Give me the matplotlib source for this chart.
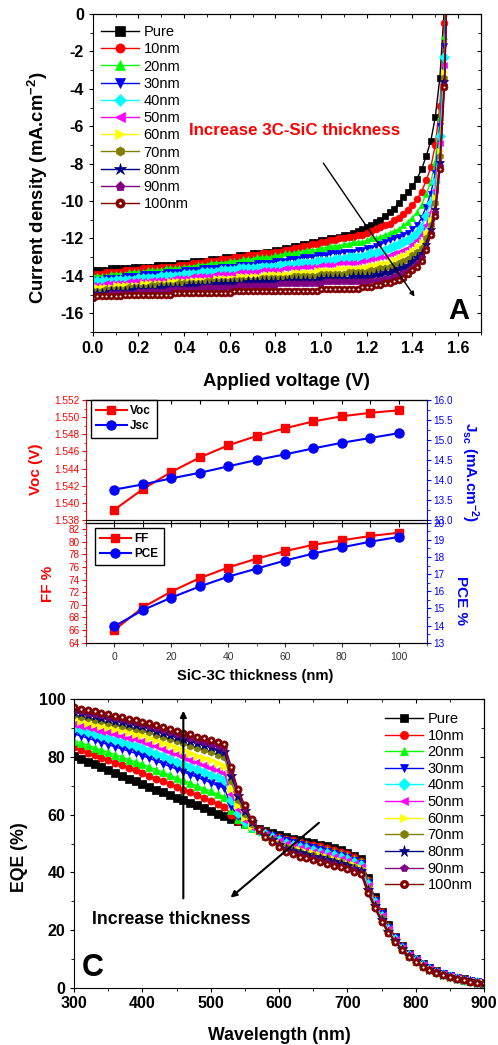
import numpy as np
import matplotlib
matplotlib.use('Agg')
import matplotlib.pyplot as plt
from matplotlib.ticker import MultipleLocator, FormatStrFormatter
from matplotlib.legend_handler import HandlerTuple

plt.rcParams['font.family'] = ['Liberation Sans', 'DejaVu Sans']
plt.rcParams['mathtext.fontset'] = 'custom'
plt.rcParams['mathtext.rm'] = 'Liberation Sans'
plt.rcParams['mathtext.bf'] = 'Liberation Sans:bold'
plt.rcParams['mathtext.it'] = 'Liberation Sans:italic'
plt.rcParams['axes.linewidth'] = 0.8

# ---------------- data ----------------
labels = ['Pure', '10nm', '20nm', '30nm', '40nm', '50nm', '60nm', '70nm', '80nm', '90nm', '100nm']
colors = ['#000000', '#FF0000', '#00FF00', '#0000FF', '#00FFFF', '#FF00FF',
          '#FFFF00', '#808000', '#000080', '#800080', '#800000']
markers = ['s', 'o', '^', 'v', 'D', '<', '>', 'h', '*', 'p', 'o']

voltage = np.round(np.arange(0, 1.561, 0.02), 2)

j_pure = [-13.7,-13.7,-13.7,-13.7,-13.6,-13.6,-13.6,-13.6,-13.6,-13.5,
          -13.5,-13.5,-13.5,-13.5,-13.4,-13.4,-13.4,-13.4,-13.4,-13.3,
          -13.3,-13.3,-13.2,-13.2,-13.2,-13.2,-13.1,-13.1,-13.1,-13.0,
          -13.0,-13.0,-12.9,-12.9,-12.9,-12.8,-12.8,-12.8,-12.7,-12.7,
          -12.6,-12.6,-12.5,-12.5,-12.4,-12.4,-12.3,-12.3,-12.2,-12.2,
          -12.1,-12.1,-12.0,-12.0,-11.9,-11.8,-11.8,-11.7,-11.6,-11.5,
          -11.4,-11.3,-11.1,-11.0,-10.8,-10.6,-10.4,-10.1,-9.8,-9.5,
          -9.2,-8.8,-8.3,-7.6,-6.8,-5.5,-3.4,0.4,6.0]
j_10 = [-13.9,-13.9,-13.9,-13.8,-13.8,-13.8,-13.8,-13.7,-13.7,-13.7,
        -13.7,-13.6,-13.6,-13.6,-13.6,-13.5,-13.5,-13.5,-13.5,-13.4,
        -13.4,-13.4,-13.3,-13.3,-13.3,-13.2,-13.2,-13.2,-13.1,-13.1,
        -13.1,-13.0,-13.0,-13.0,-12.9,-12.9,-12.9,-12.8,-12.8,-12.8,
        -12.7,-12.7,-12.6,-12.6,-12.5,-12.5,-12.4,-12.4,-12.3,-12.3,
        -12.2,-12.2,-12.1,-12.1,-12.0,-12.0,-11.9,-11.9,-11.8,-11.8,
        -11.7,-11.6,-11.5,-11.4,-11.3,-11.2,-11.0,-10.9,-10.7,-10.5,
        -10.2,-9.9,-9.5,-8.9,-8.2,-7.0,-4.9,-0.5,5.5]
j_20 = [-14.0,-14.0,-14.0,-14.0,-13.9,-13.9,-13.9,-13.9,-13.8,-13.8,
        -13.8,-13.8,-13.7,-13.7,-13.7,-13.7,-13.6,-13.6,-13.6,-13.6,
        -13.5,-13.5,-13.5,-13.4,-13.4,-13.4,-13.3,-13.3,-13.3,-13.3,
        -13.2,-13.2,-13.2,-13.1,-13.1,-13.1,-13.0,-13.0,-13.0,-13.0,
        -12.9,-12.9,-12.8,-12.8,-12.8,-12.7,-12.7,-12.6,-12.6,-12.6,
        -12.5,-12.5,-12.4,-12.4,-12.4,-12.3,-12.3,-12.2,-12.2,-12.2,
        -12.1,-12.0,-12.0,-11.9,-11.8,-11.7,-11.6,-11.5,-11.3,-11.1,
        -10.9,-10.6,-10.2,-9.6,-9.0,-7.9,-5.5,-1.2,5.0]
j_30 = [-14.2,-14.2,-14.2,-14.1,-14.1,-14.1,-14.1,-14.0,-14.0,-14.0,
        -14.0,-13.9,-13.9,-13.9,-13.9,-13.9,-13.8,-13.8,-13.8,-13.8,
        -13.7,-13.7,-13.7,-13.7,-13.6,-13.6,-13.6,-13.6,-13.5,-13.5,
        -13.5,-13.5,-13.4,-13.4,-13.4,-13.4,-13.3,-13.3,-13.3,-13.3,
        -13.2,-13.2,-13.2,-13.1,-13.1,-13.1,-13.0,-13.0,-13.0,-12.9,
        -12.9,-12.9,-12.8,-12.8,-12.8,-12.7,-12.7,-12.7,-12.6,-12.6,
        -12.5,-12.5,-12.4,-12.3,-12.2,-12.1,-12.0,-11.9,-11.8,-11.7,
        -11.5,-11.3,-10.9,-10.3,-9.6,-8.5,-6.0,-1.7,5.0]
j_40 = [-14.3,-14.3,-14.3,-14.3,-14.3,-14.2,-14.2,-14.2,-14.2,-14.2,
        -14.1,-14.1,-14.1,-14.1,-14.1,-14.0,-14.0,-14.0,-14.0,-14.0,
        -13.9,-13.9,-13.9,-13.9,-13.8,-13.8,-13.8,-13.8,-13.7,-13.7,
        -13.7,-13.7,-13.6,-13.6,-13.6,-13.6,-13.6,-13.5,-13.5,-13.5,
        -13.5,-13.4,-13.4,-13.4,-13.4,-13.3,-13.3,-13.3,-13.3,-13.2,
        -13.2,-13.2,-13.2,-13.1,-13.1,-13.1,-13.0,-13.0,-13.0,-13.0,
        -12.9,-12.8,-12.8,-12.7,-12.6,-12.5,-12.4,-12.3,-12.2,-12.1,
        -11.9,-11.7,-11.4,-10.8,-10.1,-9.0,-6.5,-2.3,5.0]
j_50 = [-14.5,-14.5,-14.5,-14.4,-14.4,-14.4,-14.4,-14.4,-14.3,-14.3,
        -14.3,-14.3,-14.3,-14.2,-14.2,-14.2,-14.2,-14.2,-14.1,-14.1,
        -14.1,-14.1,-14.0,-14.0,-14.0,-14.0,-14.0,-13.9,-13.9,-13.9,
        -13.9,-13.9,-13.8,-13.8,-13.8,-13.8,-13.8,-13.7,-13.7,-13.7,
        -13.7,-13.7,-13.6,-13.6,-13.6,-13.6,-13.5,-13.5,-13.5,-13.5,
        -13.4,-13.4,-13.4,-13.4,-13.3,-13.3,-13.3,-13.3,-13.3,-13.2,
        -13.2,-13.1,-13.1,-13.0,-13.0,-12.9,-12.8,-12.7,-12.6,-12.5,
        -12.3,-12.1,-11.8,-11.3,-10.6,-9.4,-6.9,-2.7,5.0]
j_60 = [-14.6,-14.6,-14.6,-14.6,-14.6,-14.5,-14.5,-14.5,-14.5,-14.5,
        -14.5,-14.4,-14.4,-14.4,-14.4,-14.4,-14.4,-14.3,-14.3,-14.3,
        -14.3,-14.3,-14.2,-14.2,-14.2,-14.2,-14.2,-14.1,-14.1,-14.1,
        -14.1,-14.1,-14.0,-14.0,-14.0,-14.0,-14.0,-14.0,-13.9,-13.9,
        -13.9,-13.9,-13.9,-13.9,-13.8,-13.8,-13.8,-13.8,-13.8,-13.7,
        -13.7,-13.7,-13.7,-13.7,-13.6,-13.6,-13.6,-13.6,-13.6,-13.5,
        -13.5,-13.4,-13.4,-13.3,-13.3,-13.2,-13.1,-13.0,-12.9,-12.8,
        -12.6,-12.4,-12.2,-11.7,-11.0,-9.8,-7.3,-3.1,5.0]
j_70 = [-14.8,-14.8,-14.8,-14.7,-14.7,-14.7,-14.7,-14.7,-14.6,-14.6,
        -14.6,-14.6,-14.6,-14.5,-14.5,-14.5,-14.5,-14.5,-14.5,-14.4,
        -14.4,-14.4,-14.4,-14.4,-14.4,-14.3,-14.3,-14.3,-14.3,-14.3,
        -14.3,-14.2,-14.2,-14.2,-14.2,-14.2,-14.2,-14.1,-14.1,-14.1,
        -14.1,-14.1,-14.1,-14.1,-14.0,-14.0,-14.0,-14.0,-14.0,-14.0,
        -13.9,-13.9,-13.9,-13.9,-13.9,-13.9,-13.8,-13.8,-13.8,-13.8,
        -13.8,-13.7,-13.7,-13.6,-13.6,-13.5,-13.4,-13.3,-13.2,-13.1,
        -12.9,-12.7,-12.5,-12.0,-11.3,-10.1,-7.6,-3.4,5.0]
j_80 = [-14.9,-14.9,-14.9,-14.9,-14.8,-14.8,-14.8,-14.8,-14.8,-14.7,
        -14.7,-14.7,-14.7,-14.7,-14.7,-14.6,-14.6,-14.6,-14.6,-14.6,
        -14.6,-14.5,-14.5,-14.5,-14.5,-14.5,-14.5,-14.4,-14.4,-14.4,
        -14.4,-14.4,-14.4,-14.4,-14.3,-14.3,-14.3,-14.3,-14.3,-14.3,
        -14.3,-14.3,-14.3,-14.2,-14.2,-14.2,-14.2,-14.2,-14.2,-14.2,
        -14.1,-14.1,-14.1,-14.1,-14.1,-14.1,-14.1,-14.0,-14.0,-14.0,
        -14.0,-14.0,-13.9,-13.9,-13.8,-13.8,-13.7,-13.6,-13.5,-13.4,
        -13.2,-13.0,-12.8,-12.3,-11.5,-10.4,-7.9,-3.6,5.0]
j_90 = [-15.0,-15.0,-15.0,-15.0,-14.9,-14.9,-14.9,-14.9,-14.9,-14.9,
        -14.8,-14.8,-14.8,-14.8,-14.8,-14.8,-14.8,-14.7,-14.7,-14.7,
        -14.7,-14.7,-14.7,-14.7,-14.6,-14.6,-14.6,-14.6,-14.6,-14.6,
        -14.6,-14.6,-14.5,-14.5,-14.5,-14.5,-14.5,-14.5,-14.5,-14.5,
        -14.5,-14.4,-14.4,-14.4,-14.4,-14.4,-14.4,-14.4,-14.4,-14.4,
        -14.4,-14.3,-14.3,-14.3,-14.3,-14.3,-14.3,-14.3,-14.3,-14.3,
        -14.3,-14.2,-14.2,-14.2,-14.1,-14.1,-14.0,-13.9,-13.8,-13.7,
        -13.5,-13.3,-13.0,-12.5,-11.7,-10.6,-8.1,-3.8,5.0]
j_100 = [-15.2,-15.1,-15.1,-15.1,-15.1,-15.1,-15.1,-15.0,-15.0,-15.0,
         -15.0,-15.0,-15.0,-15.0,-15.0,-15.0,-15.0,-15.0,-14.9,-14.9,
         -14.9,-14.9,-14.9,-14.9,-14.9,-14.9,-14.9,-14.9,-14.9,-14.9,
         -14.9,-14.8,-14.8,-14.8,-14.8,-14.8,-14.8,-14.8,-14.8,-14.8,
         -14.8,-14.8,-14.8,-14.8,-14.8,-14.8,-14.8,-14.8,-14.8,-14.8,
         -14.7,-14.7,-14.7,-14.7,-14.7,-14.7,-14.7,-14.7,-14.7,-14.6,
         -14.6,-14.6,-14.5,-14.5,-14.4,-14.4,-14.3,-14.2,-14.1,-13.9,
         -13.7,-13.5,-13.2,-12.6,-11.8,-10.8,-8.3,-3.9,5.0]
jv_curves = [j_pure, j_10, j_20, j_30, j_40, j_50, j_60, j_70, j_80, j_90, j_100]

thickness = [0, 10, 20, 30, 40, 50, 60, 70, 80, 90, 100]
voc = [1.5392, 1.5416, 1.5436, 1.5453, 1.5467, 1.5478, 1.5487, 1.5495, 1.5501, 1.5505, 1.5508]
jsc = [13.76, 13.89, 14.04, 14.18, 14.34, 14.50, 14.64, 14.79, 14.93, 15.05, 15.17]
ff = [66.0, 69.6, 72.1, 74.2, 75.9, 77.3, 78.5, 79.5, 80.2, 80.9, 81.4]
pce = [13.96, 14.90, 15.63, 16.28, 16.85, 17.32, 17.79, 18.20, 18.56, 18.89, 19.17]

wavelength = np.arange(300, 901, 10)
eqe_pure = [80.4,79.4,78.4,77.4,76.4,75.4,74.5,73.5,72.5,71.5,
            70.5,69.6,68.7,67.8,66.8,65.9,65.0,64.1,63.2,62.2,
            61.3,60.4,59.5,58.6,57.7,56.8,56.0,55.1,54.3,53.5,
            52.8,52.2,51.7,51.2,50.6,50.1,49.6,49.0,48.3,47.6,
            46.8,45.8,44.6,37.9,31.3,26.4,21.6,17.7,14.4,11.8,
            10.0,8.3,6.9,5.8,4.9,4.1,3.4,2.9,2.4,2.0,1.7]
eqe_10 = [83.3,82.4,81.5,80.7,79.8,78.9,78.0,77.1,76.3,75.4,74.5,
          73.5,72.5,71.6,70.6,69.6,68.7,67.7,66.7,65.7,64.8,63.8,62.8,
          59.9,57.8,56.6,55.7,54.8,54.0,53.1,52.4,
          51.7,51.2,50.6,50.0,49.5,49.0,48.4,47.7,47.0,46.2,45.2,44.1,
          37.4,30.9,26.1,21.3,17.5,14.3,11.7,9.9,8.2,6.8,5.7,4.9,4.1,3.4,2.9,2.4,2.0,1.7]
eqe_20 = [85.7,84.9,84.1,83.2,82.4,81.6,80.8,80.0,79.1,78.3,77.5,
          76.6,75.6,74.7,73.7,72.8,71.9,70.9,70.0,69.0,68.1,67.1,66.2,
          61.5,58.5,56.7,55.5,54.6,53.7,52.8,52.0,
          51.2,50.6,50.0,49.4,48.9,48.4,47.8,47.1,46.4,45.6,44.7,43.5,
          36.9,30.5,25.7,21.1,17.3,14.1,11.6,9.8,8.1,6.7,5.7,4.8,4.0,3.3,2.8,2.3,2.0,1.7]
eqe_30 = [88.0,87.3,86.5,85.8,85.0,84.3,83.5,82.8,82.0,81.3,80.5,
          79.6,78.6,77.7,76.7,75.8,74.9,73.9,73.0,72.0,71.1,70.1,69.2,
          63.0,59.5,57.0,55.5,54.4,53.4,52.5,51.6,
          50.7,50.1,49.5,48.9,48.3,47.8,47.2,46.5,45.8,45.1,44.1,43.0,
          36.4,30.2,25.4,20.8,17.1,14.0,11.5,9.7,8.0,6.7,5.6,4.8,4.0,3.3,2.8,2.3,1.9,1.7]
eqe_40 = [90.0,89.3,88.6,87.9,87.2,86.5,85.8,85.1,84.4,83.7,83.0,
          82.1,81.2,80.3,79.3,78.4,77.5,76.6,75.7,74.8,73.8,72.9,72.0,
          65.0,60.5,57.5,55.6,54.3,53.2,52.2,51.2,
          50.2,49.5,48.9,48.3,47.7,47.2,46.6,45.9,45.2,44.5,43.6,42.5,
          35.9,29.8,25.0,20.5,16.9,13.9,11.4,9.6,7.9,6.6,5.6,4.7,3.9,3.2,2.8,2.3,1.9,1.7]
eqe_50 = [91.5,90.9,90.3,89.7,89.1,88.5,87.9,87.3,86.7,86.1,85.5,
          84.6,83.7,82.8,81.8,80.9,80.0,79.1,78.2,77.3,76.3,75.4,74.5,
          67.0,62.0,58.3,55.8,54.2,53.0,51.9,50.8,
          49.7,49.0,48.3,47.7,47.2,46.6,46.0,45.3,44.7,43.9,43.0,41.9,
          35.4,29.4,24.7,20.3,16.7,13.8,11.3,9.5,7.8,6.5,5.5,4.7,3.9,3.2,2.8,2.3,1.9,1.7]
eqe_60 = [93.0,92.5,91.9,91.4,90.8,90.3,89.7,89.2,88.6,88.1,87.5,
          86.6,85.8,84.9,84.0,83.1,82.3,81.4,80.5,79.6,78.8,77.9,77.0,
          69.0,63.5,59.2,56.2,54.3,52.9,51.6,50.3,
          49.2,48.5,47.7,47.1,46.6,46.0,45.4,44.7,44.1,43.3,42.4,41.4,
          34.9,29.0,24.3,20.0,16.5,13.6,11.2,9.4,7.7,6.4,5.4,4.6,3.8,3.2,2.7,2.2,1.9,1.6]
eqe_70 = [94.5,94.0,93.5,92.9,92.4,91.9,91.4,90.9,90.3,89.8,89.3,
          88.5,87.7,87.0,86.2,85.4,84.7,83.9,83.1,82.3,81.6,80.8,80.0,
          71.5,65.0,60.2,56.7,54.4,52.8,51.4,49.9,
          48.7,47.9,47.1,46.5,46.0,45.4,44.8,44.1,43.5,42.7,41.9,40.9,
          34.4,28.6,24.0,19.7,16.3,13.5,11.1,9.3,7.6,6.3,5.4,4.6,3.8,3.1,2.7,2.2,1.9,1.6]
eqe_80 = [95.6,95.1,94.6,94.1,93.6,93.1,92.6,92.1,91.6,91.1,90.6,
          89.9,89.1,88.4,87.7,86.9,86.2,85.5,84.7,84.0,83.3,82.5,81.8,
          73.5,66.5,61.3,57.3,54.6,52.7,51.1,49.5,
          48.2,47.4,46.6,46.0,45.4,44.8,44.2,43.5,42.9,42.2,41.3,40.4,
          33.9,28.3,23.6,19.4,16.1,13.4,11.0,9.2,7.5,6.3,5.3,4.5,3.7,3.1,2.7,2.2,1.8,1.6]
eqe_90 = [96.4,95.9,95.4,94.9,94.4,94.0,93.5,93.0,92.5,92.0,91.5,
          90.8,90.1,89.4,88.7,88.0,87.4,86.7,86.0,85.3,84.6,83.9,83.2,
          75.0,67.8,62.4,57.8,54.8,52.5,50.8,49.1,
          47.7,46.8,46.0,45.4,44.8,44.2,43.6,42.9,42.3,41.6,40.8,39.8,
          33.4,27.9,23.3,19.2,15.9,13.2,10.9,9.1,7.4,6.2,5.3,4.5,3.7,3.0,2.6,2.1,1.8,1.6]
eqe_100 = [97.3,96.8,96.3,95.8,95.3,94.8,94.3,93.8,93.3,92.8,92.3,
           91.7,91.0,90.4,89.7,89.1,88.4,87.8,87.1,86.5,85.8,85.2,84.5,
           76.6,68.8,63.3,58.4,54.9,52.4,50.6,48.7,
           47.2,46.3,45.4,44.8,44.2,43.6,43.0,42.3,41.7,41.0,40.2,39.3,
           32.9,27.5,22.9,18.9,15.7,13.1,10.8,9.0,7.3,6.1,5.2,4.4,3.6,3.0,2.6,2.1,1.8,1.6]
eqe_curves = [eqe_pure, eqe_10, eqe_20, eqe_30, eqe_40, eqe_50, eqe_60, eqe_70, eqe_80, eqe_90, eqe_100]

# ---------------- figure ----------------
W, H = 498, 1045
fig = plt.figure(figsize=(W / 100, H / 100), dpi=100)


def rect(l, t, r, b):
    return [l / W, 1 - b / H, (r - l) / W, (b - t) / H]


def mirror(ax, xmaj, xmin, ymaj, ymin, length=3.2, do_x=True, do_y=True):
    if do_x:
        sx = ax.secondary_xaxis('top')
        sx.xaxis.set_major_locator(MultipleLocator(xmaj))
        sx.xaxis.set_minor_locator(MultipleLocator(xmin))
        sx.tick_params(axis='x', which='both', direction='in', labeltop=False, labelbottom=False)
        sx.tick_params(axis='x', which='major', length=length)
        sx.tick_params(axis='x', which='minor', length=length * 0.6)
    if do_y:
        sy = ax.secondary_yaxis('right')
        sy.yaxis.set_major_locator(MultipleLocator(ymaj))
        sy.yaxis.set_minor_locator(MultipleLocator(ymin))
        sy.tick_params(axis='y', which='both', direction='in', labelright=False, labelleft=False)
        sy.tick_params(axis='y', which='major', length=length)
        sy.tick_params(axis='y', which='minor', length=length * 0.6)


# ================= Panel A =================
axA = fig.add_axes(rect(92.7, 14, 481, 332))
handlesA = []
for i, (J, lab, c, m) in enumerate(zip(jv_curves, labels, colors, markers)):
    ms = 6.5 if m == '*' else 4.9
    ln, = axA.plot(voltage, J, color=c, marker=m, ms=ms, mec=c, mfc=c, mew=0.5, lw=1.0, label=lab)
    if i == 10:
        dot, = axA.plot(voltage, J, linestyle='none', marker='o', ms=1.4, mfc='white', mec='white', mew=0)
        handlesA.append((ln, dot))
    else:
        handlesA.append(ln)
axA.set_xlim(0, 1.7)
axA.set_ylim(-17, 0)
xt = [0.0, 0.2, 0.4, 0.6, 0.8, 1.0, 1.2, 1.4, 1.6]
axA.set_xticks(xt)
axA.set_xticklabels(['%.1f' % v for v in xt], fontweight='bold', fontsize=11.5)
yt = [-16, -14, -12, -10, -8, -6, -4, -2, 0]
axA.set_yticks(yt)
axA.set_yticklabels(['%d' % v for v in yt], fontweight='bold', fontsize=11.5)
axA.xaxis.set_minor_locator(MultipleLocator(0.1))
axA.yaxis.set_minor_locator(MultipleLocator(1))
axA.tick_params(which='both', direction='out')
axA.tick_params(which='major', length=3.2, pad=3)
axA.tick_params(which='minor', length=2)
mirror(axA, 0.2, 0.1, 2, 1)
fig.text(38 / W, 1 - 188 / H, r'Current density (mA.cm$^{\mathbf{-2}}$)', rotation=90,
         ha='center', va='center', fontsize=13.3, fontweight='bold')
fig.text(286.7 / W, 1 - 382 / H, 'Applied voltage (V)', ha='center', va='center',
         fontsize=13.3, fontweight='bold')
axA.text(0.885, -6.25, 'Increase 3C-SiC thickness', color='red', fontweight='bold',
         fontsize=12.2, ha='center', va='center')
axA.annotate('', xy=(1.416, -15.23), xytext=(1.003, -7.85),
             arrowprops=dict(arrowstyle='-|>', color='black', lw=1.0, mutation_scale=7))
axA.text(1.604, -15.9, 'A', fontsize=21, fontweight='bold', ha='center', va='center')
axA.legend(handlesA, labels, loc='upper left', bbox_to_anchor=(0.022, 0.965), frameon=False,
           fontsize=10.5, handlelength=2.6, handletextpad=0.3, labelspacing=0.22, borderpad=0,
           borderaxespad=0, markerscale=1.35, handler_map={tuple: HandlerTuple(ndivide=1)})

# ================= Panel B (upper) =================
axB1 = fig.add_axes(rect(86, 400, 427, 520))
axB1r = axB1.twinx()
h1, = axB1.plot(thickness, voc, color='#FF0000', marker='s', ms=6, lw=1.5, label='Voc')
h2, = axB1r.plot(thickness, jsc, color='#0000FF', marker='o', ms=6.5, lw=1.5, label='Jsc')
axB1.set_xlim(-10, 110)
axB1.set_ylim(1.538, 1.552)
axB1r.set_ylim(13.0, 16.0)
axB1.yaxis.set_major_locator(MultipleLocator(0.002))
axB1.yaxis.set_minor_locator(MultipleLocator(0.001))
axB1.yaxis.set_major_formatter(FormatStrFormatter('%.3f'))
axB1r.yaxis.set_major_locator(MultipleLocator(0.5))
axB1r.yaxis.set_minor_locator(MultipleLocator(0.25))
axB1r.yaxis.set_major_formatter(FormatStrFormatter('%.1f'))
axB1.xaxis.set_major_locator(MultipleLocator(20))
axB1.xaxis.set_minor_locator(MultipleLocator(10))
axB1.tick_params(axis='x', which='both', direction='out', labelbottom=False)
axB1.tick_params(axis='y', which='both', direction='out', colors='#FF0000', labelsize=7.2, pad=1.5)
axB1r.tick_params(axis='y', which='both', direction='out', colors='#0000FF', labelsize=7.2, pad=1.5)
for a in (axB1, axB1r):
    a.tick_params(which='major', length=3)
    a.tick_params(which='minor', length=1.8)
axB1.spines['left'].set_color('#FF0000')
axB1r.spines['right'].set_color('#0000FF')
axB1r.spines['left'].set_visible(False)
axB1.spines['right'].set_visible(False)
mirror(axB1, 10, 10, 1, 1, length=3, do_y=False)
legB1 = axB1.legend([h1, h2], ['Voc', 'Jsc'], loc='upper left', bbox_to_anchor=(0.014, 1.0),
                    borderaxespad=0, fancybox=False, edgecolor='black', framealpha=1,
                    prop={'weight': 'bold', 'size': 8.5}, handlelength=2.6, handletextpad=0.3,
                    labelspacing=0.25, borderpad=0.45)
legB1.get_frame().set_linewidth(1.0)
fig.text(35.7 / W, 1 - 469 / H, 'Voc (V)', rotation=90, ha='center', va='center',
         fontsize=11, fontweight='bold', color='#FF0000')
fig.text(470 / W, 1 - 472 / H, r'J$_{\mathbf{sc}}$ (mA.cm$^{\mathbf{-2}}$)', rotation=270,
         ha='center', va='center', fontsize=11, fontweight='bold', color='#0000FF')

# ================= Panel B (lower) =================
axB2 = fig.add_axes(rect(86, 522.7, 427, 642.7))
axB2r = axB2.twinx()
h3, = axB2.plot(thickness, ff, color='#FF0000', marker='s', ms=6, lw=1.5, label='FF')
h4, = axB2r.plot(thickness, pce, color='#0000FF', marker='o', ms=6.5, lw=1.5, label='PCE')
axB2.set_xlim(-10, 110)
axB2.set_ylim(64, 83)
axB2r.set_ylim(13, 20)
axB2.yaxis.set_major_locator(MultipleLocator(2))
axB2.yaxis.set_minor_locator(MultipleLocator(1))
axB2r.yaxis.set_major_locator(MultipleLocator(1))
axB2r.yaxis.set_minor_locator(MultipleLocator(0.5))
axB2.xaxis.set_major_locator(MultipleLocator(20))
axB2.xaxis.set_minor_locator(MultipleLocator(10))
axB2.tick_params(axis='x', which='both', direction='out', labelsize=7.5, colors='#333333')
axB2.tick_params(axis='y', which='both', direction='out', colors='#FF0000', labelsize=7.2, pad=1.5)
axB2r.tick_params(axis='y', which='both', direction='out', colors='#0000FF', labelsize=7.2, pad=1.5)
for a in (axB2, axB2r):
    a.tick_params(which='major', length=3)
    a.tick_params(which='minor', length=1.8)
axB2.spines['left'].set_color('#FF0000')
axB2r.spines['right'].set_color('#0000FF')
axB2r.spines['left'].set_visible(False)
axB2.spines['right'].set_visible(False)
mirror(axB2, 10, 10, 1, 1, length=3, do_y=False)
legB2 = axB2.legend([h3, h4], ['FF', 'PCE'], loc='upper left', bbox_to_anchor=(0.0255, 0.958),
                    borderaxespad=0, fancybox=False, edgecolor='black', framealpha=1,
                    prop={'weight': 'bold', 'size': 8.5}, handlelength=2.6, handletextpad=0.3,
                    labelspacing=0.25, borderpad=0.45)
legB2.get_frame().set_linewidth(1.0)
fig.text(48 / W, 1 - 584 / H, 'FF %', rotation=90, ha='center', va='center',
         fontsize=11, fontweight='bold', color='#FF0000')
fig.text(460.7 / W, 1 - 600.7 / H, 'PCE %', rotation=270, ha='center', va='center',
         fontsize=11, fontweight='bold', color='#0000FF')
fig.text(255.5 / W, 1 - 676 / H, 'SiC-3C thickness (nm)', ha='center', va='center',
         fontsize=10.6, fontweight='bold')

# ================= Panel C =================
axC = fig.add_axes(rect(74, 699.3, 484, 987.7))
handlesC = []
for i, (E, lab, c, m) in enumerate(zip(eqe_curves, labels, colors, markers)):
    ms = 7 if m == '*' else 5.2
    ln, = axC.plot(wavelength, E, color=c, marker=m, ms=ms, mec=c, mfc=c, mew=0.5, lw=1.0, label=lab)
    if i == 10:
        dot, = axC.plot(wavelength, E, linestyle='none', marker='o', ms=1.6, mfc='white', mec='white', mew=0)
        handlesC.append((ln, dot))
    else:
        handlesC.append(ln)
axC.set_xlim(300, 900)
axC.set_ylim(0, 100)
xtc = [300, 400, 500, 600, 700, 800, 900]
axC.set_xticks(xtc)
axC.set_xticklabels(['%d' % v for v in xtc], fontweight='bold', fontsize=11.5)
ytc = [0, 20, 40, 60, 80, 100]
axC.set_yticks(ytc)
axC.set_yticklabels(['%d' % v for v in ytc], fontweight='bold', fontsize=11.5)
axC.xaxis.set_minor_locator(MultipleLocator(50))
axC.yaxis.set_minor_locator(MultipleLocator(10))
axC.tick_params(which='both', direction='out')
axC.tick_params(which='major', length=3.2, pad=3)
axC.tick_params(which='minor', length=2)
mirror(axC, 100, 50, 20, 10)
fig.text(19 / W, 1 - 856.7 / H, 'EQE (%)', rotation=90, ha='center', va='center',
         fontsize=12.8, fontweight='bold')
fig.text(279.5 / W, 1 - 1035 / H, 'Wavelength (nm)', ha='center', va='center',
         fontsize=12.8, fontweight='bold')
axC.annotate('', xy=(460, 97), xytext=(460, 30),
             arrowprops=dict(arrowstyle='-|>', color='black', lw=1.5, mutation_scale=9))
axC.annotate('', xy=(526, 30.6), xytext=(661.5, 57.8),
             arrowprops=dict(arrowstyle='-|>', color='black', lw=1.5, mutation_scale=9))
axC.text(442.7, 23.5, 'Increase thickness', fontsize=12.7, fontweight='bold', ha='center', va='center')
axC.text(327.8, 6.7, 'C', fontsize=22, fontweight='bold', ha='center', va='center')
legC = axC.legend(handlesC, labels, loc='upper right', bbox_to_anchor=(0.972, 0.956), frameon=False,
                  fontsize=10.5, handlelength=2.6, handletextpad=0.3, labelspacing=0.18, borderpad=0,
                  borderaxespad=0, markerscale=1.15, handler_map={tuple: HandlerTuple(ndivide=1)})

fig.savefig('out.png', dpi=100)
